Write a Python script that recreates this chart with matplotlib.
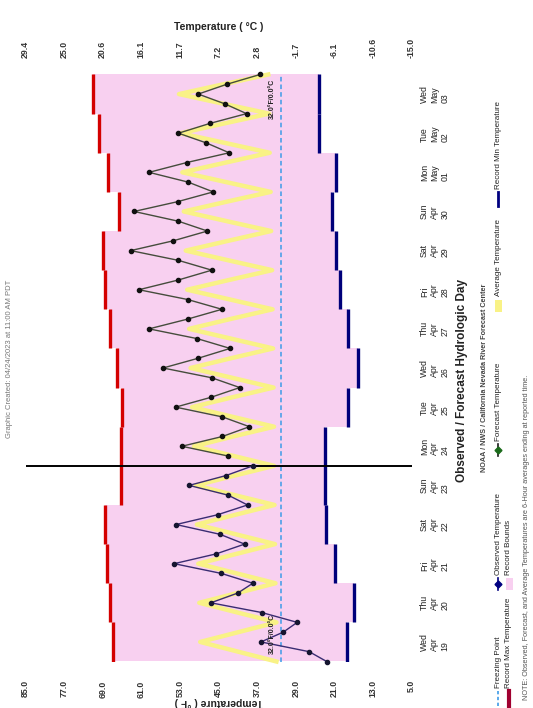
import matplotlib
matplotlib.use('Agg')
import matplotlib.pyplot as plt
import numpy as np
from matplotlib.patches import Rectangle

plt.rcParams['font.family'] = ['Liberation Sans', 'DejaVu Sans']

# ---------------- data ----------------
day_labels = ['Wed\nApr\n19', 'Thu\nApr\n20', 'Fri\nApr\n21', 'Sat\nApr\n22', 'Sun\nApr\n23',
              'Mon\nApr\n24', 'Tue\nApr\n25', 'Wed\nApr\n26', 'Thu\nApr\n27', 'Fri\nApr\n28',
              'Sat\nApr\n29', 'Sun\nApr\n30', 'Mon\nMay\n01', 'Tue\nMay\n02', 'Wed\nMay\n03']
f_ticks = [85, 77, 69, 61, 53, 45, 37, 29, 21, 13, 5]
f_tick_labels = ['85.0', '77.0', '69.0', '61.0', '53.0', '45.0', '37.0', '29.0', '21.0', '13.0', '5.0']
c_tick_labels = ['29.4', '25.0', '20.6', '16.1', '11.7', '7.2', '2.8', '-1.7', '-6.1', '-10.6', '-15.0']

# 6-hourly observed temperatures (deg F), Apr 19 -> Apr 24
obs_temp = [22.6, 26.2, 36.2, 31.6, 28.7, 36.0, 46.6, 41.0, 37.9, 44.4, 54.2,
            45.5, 39.6, 44.7, 53.8, 45.2, 39.0, 43.0, 51.1, 43.5, 37.9]
# 6-hourly forecast temperatures (deg F), Apr 24 -> May 03
fcst_temp = [43.0, 52.6, 44.2, 38.6, 44.2, 53.9, 46.6, 40.6, 46.4, 56.5,
             49.2, 42.6, 49.4, 59.4, 51.4, 44.3, 51.4, 61.5, 53.3, 46.4,
             53.3, 63.2, 54.4, 47.3, 53.3, 62.5, 53.5, 46.1, 51.3, 59.4,
             51.6, 42.8, 47.5, 53.3, 46.8, 39.2, 43.7, 49.2, 43.3, 36.4]
# 6-hourly average temperatures (deg F)
avg_temp = [33.0, 40.9, 48.8, 40.9,
            33.0, 41.0, 49.0, 41.1,
            33.2, 41.2, 49.2, 41.3,
            33.3, 41.4, 49.5, 41.5,
            33.4, 41.6, 49.8, 41.7,
            33.5, 41.8, 50.1, 42.0,
            33.5, 42.0, 50.5, 42.2,
            33.6, 42.2, 50.8, 42.4,
            33.7, 42.4, 51.1, 42.6,
            33.8, 42.6, 51.5, 42.8,
            33.9, 42.9, 51.8, 43.0,
            34.1, 43.2, 52.2, 43.3,
            34.2, 43.4, 52.5, 43.5,
            34.4, 43.6, 52.9, 43.8,
            34.5, 43.9, 53.2, 44.0,
            34.7]
# daily record max / min (deg F)
rec_max = [66.9, 67.4, 68.2, 68.5, 65.3, 65.3, 65.1, 66.0, 67.4, 68.6, 68.9, 65.6, 68.0, 69.8, 71.0]
rec_min = [18.3, 17.0, 20.9, 22.7, 22.9, 22.9, 18.1, 16.2, 18.1, 19.8, 20.7, 21.5, 20.7, 24.2, 24.2]

now_day = 5.0
freeze_f = 32.0

# ---------------- figure ----------------
W, H = 533, 708
fig = plt.figure(figsize=(W / 100, H / 100), dpi=100)
L, R, T, B = 25.5, 411.6, 74.5, 661.5
ax = fig.add_axes([L / W, 1 - B / H, (R - L) / W, (B - T) / H])
ax.set_xlim(85, 5)
ax.set_ylim(0, 15)
for s in ax.spines.values():
    s.set_visible(False)

n_days = len(rec_max)
days = np.arange(n_days)
edges = np.arange(n_days + 1)
ax.fill_betweenx(edges, rec_max + [rec_max[-1]], rec_min + [rec_min[-1]],
                 step='post', color='#f8d0f0', lw=0, zorder=1)
ax.vlines(rec_max, days, days + 1, color='#d40000', lw=2.4, zorder=3)
ax.vlines(rec_min, days, days + 1, color='#00007a', lw=2.4, zorder=3)

t_all = np.arange(len(avg_temp)) * 0.25
t_obs = t_all[:len(obs_temp)]
t_fc = t_all[len(obs_temp):len(obs_temp) + len(fcst_temp)]

ax.plot(avg_temp, t_all, color='#f9f286', lw=3.2, zorder=2, clip_on=False)
ax.axvline(freeze_f, color='#3d9be8', lw=1.1, ls=(0, (3, 2)), zorder=4)
ax.plot(obs_temp, t_obs, color='#3a2c72', lw=1.0, marker='o', ms=3.0,
        mfc='#151530', mec='#151530', zorder=6, clip_on=False)
ax.plot(fcst_temp, t_fc, color='#454c3c', lw=1.0, marker='o', ms=3.0,
        mfc='#111111', mec='#111111', zorder=6, clip_on=False)
ax.axhline(now_day, color='black', lw=1.4, zorder=5)

ax.text(33.8, 0.2, '32.0°F/0.0°C', rotation=90, ha='center', va='bottom',
        fontsize=5, fontweight='bold', color='#222222', zorder=7)
ax.text(33.8, 14.9, '32.0°F/0.0°C', rotation=90, ha='center', va='top',
        fontsize=5, fontweight='bold', color='#222222', zorder=7)

# ticks
ax.set_xticks(f_ticks)
ax.set_xticklabels(f_tick_labels, rotation=90, fontsize=6.3, fontweight='bold', color='#333333')
ax.tick_params(axis='x', length=0, pad=13.5)
ax.yaxis.tick_right()
ax.set_yticks(days + 0.5)
ax.set_yticklabels(day_labels, rotation=90, fontsize=6.3, color='#222222', va='center')
ax.tick_params(axis='y', length=0, pad=6)

ax2 = ax.twiny()
ax2.set_xlim(ax.get_xlim())
ax2.set_xticks(f_ticks)
ax2.set_xticklabels(c_tick_labels, rotation=90, fontsize=6.3, fontweight='bold', color='#333333')
ax2.tick_params(axis='x', length=0, pad=12)
for s in ax2.spines.values():
    s.set_visible(False)

# ---------------- texts ----------------
def fx(x):
    return x / W

def fy(y):
    return 1 - y / H

fig.text(fx(218.5), fy(26.5), 'Temperature ( °C )', ha='center', va='center',
         fontsize=7.5, fontweight='bold', color='#222222')
fig.text(fx(218.5), fy(702), 'Temperature ( °F )', ha='center', va='center', rotation=180,
         fontsize=7.5, fontweight='bold', color='#222222')
fig.text(fx(10), fy(359), 'Graphic Created: 04/24/2023 at 11:00 AM PDT', rotation=90,
         ha='center', va='center', fontsize=5.5, color='#777777')
fig.text(fx(462), fy(380), 'Observed / Forecast Hydrologic Day', rotation=90,
         ha='center', va='center', fontsize=8.5, fontweight='bold', color='#222222')
fig.text(fx(484), fy(378), 'NOAA / NWS / California Nevada River Forecast Center', rotation=90,
         ha='center', va='center', fontsize=5.2, fontweight='bold', color='#444444')
fig.text(fx(527), fy(700), 'NOTE: Observed, Forecast, and Average Temperatures are 6-Hour averages ending at reported time.',
         rotation=90, ha='center', va='bottom', fontsize=5.2, color='#555555')

# legend (drawn in figure pixel space)
lg = fig.add_axes([0, 0, 1, 1], facecolor='none')
lg.set_xlim(0, W)
lg.set_ylim(H, 0)
lg.axis('off')

def leg_text(x, y, s):
    lg.text(x, y, s, rotation=90, ha='center', va='bottom', fontsize=5.8, color='#222222')

lg.plot([498, 498], [706, 691], color='#3d9be8', lw=1.2, ls=(0, (2, 1.5)))
leg_text(498, 688, 'Freezing Point')
lg.plot([509, 509], [706, 691], color='#a00030', lw=3)
leg_text(509, 688, 'Record Max Temperature')
lg.plot([498, 498], [590, 578], color='#000080', lw=1.2)
lg.plot([498], [584], marker='D', ms=3.5, color='#000080')
leg_text(498, 575, 'Observed Temperature')
lg.add_patch(Rectangle((505.5, 578), 7, 12, color='#f8d0f0', lw=0))
leg_text(509, 575, 'Record Bounds')
lg.plot([498, 498], [456, 444], color='#1a1a1a', lw=1.2)
lg.plot([498], [450], marker='D', ms=3.5, color='#1b6b1b')
leg_text(498, 441, 'Forecast Temperature')
lg.add_patch(Rectangle((494.5, 300), 7, 12, color='#f9f286', lw=0))
leg_text(498, 296, 'Average Temperature')
lg.plot([498, 498], [206, 192], color='#000080', lw=2)
leg_text(498, 189, 'Record Min Temperature')

fig.savefig('out.png', dpi=100)
